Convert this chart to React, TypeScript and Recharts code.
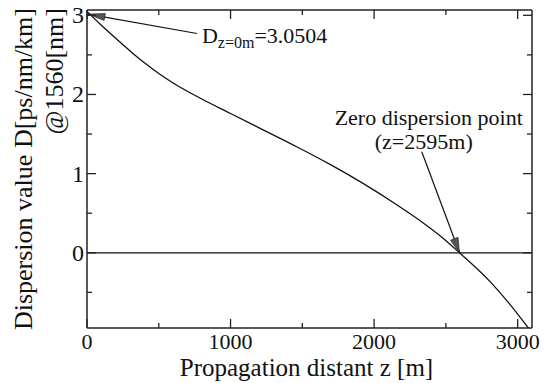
import React from "react";
import { LineChart, Line, XAxis, YAxis, ReferenceLine, Label } from "recharts";

// ---- data ----
const zValues = [0, 100, 200, 300, 400, 500, 600, 786, 1000, 1230, 1460, 1690, 1920, 2155, 2340, 2470, 2595, 2816, 2932, 3075];
const dValues = [3.05, 2.875, 2.71, 2.55, 2.4, 2.265, 2.145, 1.955, 1.76, 1.55, 1.34, 1.12, 0.88, 0.61, 0.38, 0.2, 0.0, -0.38, -0.62, -0.95];
const xTicks = [0, 500, 1000, 1500, 2000, 2500, 3000];
const yTicks = [-0.5, 0, 0.5, 1, 1.5, 2, 2.5, 3];
const xDomain = [0, 3100];
const yDomain = [-0.95, 3.067];
const dzLabelPoint = { x: 766, y: 2.77 };
const dzTipPoint = { x: 7, y: 3.016 };
const zeroLabelPoint = { x: 2332, y: 1.277 };
const zeroTipPoint = { x: 2595, y: 0 };
const xTitle = "Propagation distant z [m]";
const yTitle1 = "Dispersion value D[ps/nm/km]";
const yTitle2 = "@1560[nm]";

const data = zValues.map((z, i) => ({ z, d: dValues[i] }));

const FONT = '"Liberation Serif", "DejaVu Serif", serif';
const INK = "#111";
const AXIS = "#222";
const txt = (size: number) => ({ fontFamily: FONT, fontSize: size, fill: INK });

const BottomTick = (props: any) => {
  const { x, y, payload } = props;
  const v = payload.value;
  const major = v % 1000 === 0;
  return (
    <g>
      <line x1={x} x2={x} y1={y} y2={y - (major ? 9 : 5)} stroke={AXIS} strokeWidth={1.3} />
      {major && (
        <text x={x} y={y + 21} textAnchor="middle" style={txt(22)}>
          {v}
        </text>
      )}
    </g>
  );
};

const TopTick = (props: any) => {
  const { x, y, payload } = props;
  const major = payload.value % 1000 === 0;
  return <line x1={x} x2={x} y1={y} y2={y + (major ? 9 : 5)} stroke={AXIS} strokeWidth={1.3} />;
};

const LeftTick = (props: any) => {
  const { x, y, payload } = props;
  const v = payload.value;
  const major = Number.isInteger(v);
  return (
    <g>
      <line x1={x} x2={x + (major ? 9 : 5)} y1={y} y2={y} stroke={AXIS} strokeWidth={1.3} />
      {major && (
        <text x={x - 3} y={y + 8} textAnchor="end" style={txt(24)}>
          {v}
        </text>
      )}
    </g>
  );
};

const RightTick = (props: any) => {
  const { x, y, payload } = props;
  const major = Number.isInteger(payload.value);
  return <line x1={x} x2={x - (major ? 9 : 5)} y1={y} y2={y} stroke={AXIS} strokeWidth={1.3} />;
};

const arrowHead = (x1: number, y1: number, x2: number, y2: number, hl: number, hw: number) => {
  const dx = x2 - x1;
  const dy = y2 - y1;
  const len = Math.hypot(dx, dy) || 1;
  const ux = dx / len;
  const uy = dy / len;
  const bx = x2 - ux * hl;
  const by = y2 - uy * hl;
  return `${x2},${y2} ${bx - (uy * hw) / 2},${by + (ux * hw) / 2} ${bx + (uy * hw) / 2},${by - (ux * hw) / 2}`;
};

const DzArrow = (props: any) => {
  const { x1, y1, x2, y2 } = props;
  return (
    <g>
      <line x1={x1} y1={y1} x2={x2} y2={y2} stroke={INK} strokeWidth={1.2} />
      <polygon points={arrowHead(x1, y1, x2, y2, 17, 7)} fill="#555" stroke={INK} strokeWidth={0.6} />
      <text x={x1 + 5} y={y1 + 9.5} style={txt(22)}>
        <tspan>D</tspan>
        <tspan style={{ fontSize: 16 }} dy={5}>z=0m</tspan>
        <tspan dy={-5}>=3.0504</tspan>
      </text>
    </g>
  );
};

const ZeroArrow = (props: any) => {
  const { x1, y1, x2, y2 } = props;
  return (
    <g>
      <line x1={x1} y1={y1} x2={x2} y2={y2} stroke={INK} strokeWidth={1.2} />
      <polygon points={arrowHead(x1, y1, x2, y2, 15, 8)} fill="#555" stroke={INK} strokeWidth={0.6} />
      <text x={x1 + 7} y={y1 - 27} textAnchor="middle" style={txt(22)}>
        Zero dispersion point
      </text>
      <text x={x1 + 2} y={y1 - 3} textAnchor="middle" style={txt(22)}>
        (z=2595m)
      </text>
    </g>
  );
};

const YTitle = () => {
  const top = 8;
  return (
    <g>
      <text transform={`translate(32,${top}) rotate(-90)`} textAnchor="end" style={txt(26)}>
        {yTitle1}
      </text>
      <text transform={`translate(63,${top}) rotate(-90)`} textAnchor="end" style={txt(26)}>
        {yTitle2}
      </text>
    </g>
  );
};

const XTitle = (props: any) => {
  const vb = props.viewBox || { x: 87, width: 445, y: 328 };
  return (
    <text x={vb.x + vb.width / 2 - 3} y={376} textAnchor="middle" style={txt(25)}>
      {xTitle}
    </text>
  );
};

export default function App() {
  return (
    <div style={{ position: "absolute", left: 0, top: 0, width: 550, height: 383, background: "#fff", fontFamily: FONT }}>
      <LineChart width={550} height={383} data={data} margin={{ top: 0, right: 0, bottom: 0, left: 0 }}>
        <XAxis
          xAxisId="b"
          dataKey="z"
          type="number"
          orientation="bottom"
          domain={xDomain}
          allowDataOverflow
          ticks={xTicks}
          interval={0}
          height={55}
          tickSize={0}
          tickMargin={0}
          tickLine={false}
          tick={<BottomTick />}
          axisLine={{ stroke: AXIS, strokeWidth: 1.5 }}
        >
          <Label content={<XTitle />} />
        </XAxis>
        <XAxis
          xAxisId="t"
          dataKey="z"
          type="number"
          orientation="top"
          domain={xDomain}
          allowDataOverflow
          ticks={xTicks}
          interval={0}
          height={10}
          tickSize={0}
          tickMargin={0}
          tickLine={false}
          tick={<TopTick />}
          axisLine={{ stroke: AXIS, strokeWidth: 1.5 }}
        />
        <YAxis
          yAxisId="l"
          type="number"
          orientation="left"
          domain={yDomain}
          allowDataOverflow
          ticks={yTicks}
          interval={0}
          width={87}
          tickSize={0}
          tickMargin={0}
          tickLine={false}
          tick={<LeftTick />}
          axisLine={{ stroke: AXIS, strokeWidth: 1.5 }}
        >
          <Label content={<YTitle />} />
        </YAxis>
        <YAxis
          yAxisId="r"
          type="number"
          orientation="right"
          domain={yDomain}
          allowDataOverflow
          ticks={yTicks}
          interval={0}
          width={18}
          tickSize={0}
          tickMargin={0}
          tickLine={false}
          tick={<RightTick />}
          axisLine={{ stroke: AXIS, strokeWidth: 1.5 }}
        />
        <ReferenceLine xAxisId="b" yAxisId="l" y={0} stroke={INK} strokeWidth={1.3} />
        <Line
          xAxisId="b"
          yAxisId="l"
          dataKey="d"
          type="monotone"
          stroke={INK}
          strokeWidth={1.3}
          dot={false}
          activeDot={false}
          isAnimationActive={false}
        />
        <ReferenceLine
          xAxisId="b"
          yAxisId="l"
          segment={[dzLabelPoint, dzTipPoint]}
          shape={(p: any) => <DzArrow {...p} />}
        />
        <ReferenceLine
          xAxisId="b"
          yAxisId="l"
          segment={[zeroLabelPoint, zeroTipPoint]}
          shape={(p: any) => <ZeroArrow {...p} />}
        />
      </LineChart>
    </div>
  );
}
